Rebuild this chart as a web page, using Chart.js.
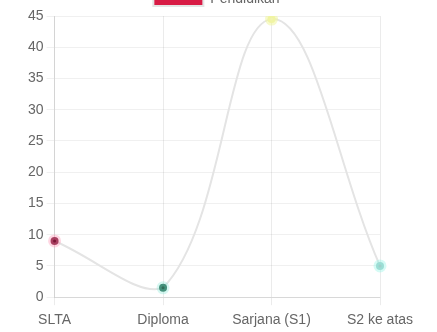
<!DOCTYPE html>
<html>
<head>
<meta charset="utf-8">
<script src="https://cdn.jsdelivr.net/npm/chart.js@4"></script>
<style>
  html, body { margin: 0; padding: 0; background: #fff; overflow: hidden; }
  #wrap { position: absolute; left: 0; top: -18px; width: 437px; height: 354px; }
</style>
</head>
<body>
<div id="wrap"><canvas id="chart"></canvas></div>
<script>
const labels = ["SLTA", "Diploma", "Sarjana (S1)", "S2 ke atas"];
const values = [9, 1.5, 44.5, 5];
const pointFill = ["#7a1636", "#2f6d57", "#f1f3b0", "#9fcfca"];
const pointHalo = ["rgba(255,140,175,0.35)", "rgba(120,230,210,0.3)", "rgba(240,245,150,0.5)", "rgba(150,245,230,0.4)"];

Chart.defaults.font.family = "'Liberation Sans', Arial, sans-serif";
Chart.defaults.font.size = 14;
Chart.defaults.color = "#666";

// legend sits centred on the whole canvas, not on the padded area
const legendShift = {
  id: "legendShift",
  afterLayout(chart) {
    chart.legend.left += 14;
    chart.legend.right += 14;
  },
};

new Chart(document.getElementById("chart"), {
  type: "line",
  data: {
    labels,
    datasets: [{
      label: "Pendidikan",
      data: values,
      borderColor: "#e4e4e4",
      backgroundColor: "#d81b45",
      borderWidth: 2,
      tension: 0.4,
      fill: false,
      pointRadius: 4,
      pointBorderWidth: 5,
      pointBackgroundColor: pointFill,
      pointBorderColor: pointHalo,
    }],
  },
  options: {
    responsive: true,
    maintainAspectRatio: false,
    animation: false,
    layout: { padding: { left: 25, right: 57, bottom: 0 } },
    plugins: {
      legend: { labels: { boxWidth: 50 } },
      tooltip: { enabled: false },
    },
    scales: {
      x: { grid: { color: "rgba(0,0,0,0.08)" }, ticks: { padding: 7 } },
      y: {
        min: 0,
        max: 45,
        ticks: { stepSize: 5 },
        grid: { color: "rgba(0,0,0,0.06)" },
      },
    },
  },
  plugins: [legendShift],
});
</script>
</body>
</html>
